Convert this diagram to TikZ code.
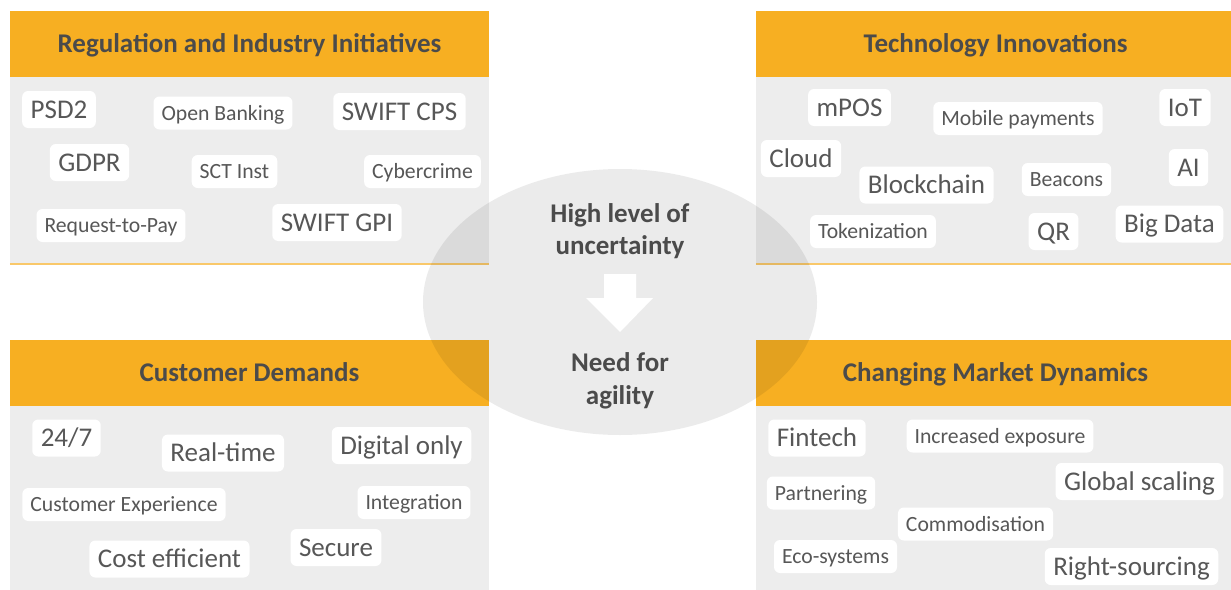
\documentclass[tikz,border=0pt]{standalone}
\usepackage{fontspec}
\setmainfont{Carlito}
\usetikzlibrary{positioning}
\definecolor{panelorange}{HTML}{F7AF22}
\definecolor{panelgray}{HTML}{EDEDED}
\definecolor{lineorange}{HTML}{F9C86A}
\definecolor{tagtext}{HTML}{575757}
\definecolor{headtext}{HTML}{4B4B4B}
\tikzset{
  header/.style={fill=panelorange, minimum width=479pt, minimum height=66pt, inner sep=0pt,
    text=headtext, font=\fontsize{27}{30}\selectfont\bfseries, text height=19pt, text depth=1.6pt},
  panelbody/.style={fill=panelgray, minimum width=479pt, inner sep=0pt, anchor=north},
  bigtag/.style={fill=white, rounded corners=6pt, text=tagtext, font=\fontsize{27}{30}\selectfont,
    inner xsep=8.5pt, inner ysep=0pt, minimum height=37pt, text height=19pt, text depth=1.6pt},
  smalltag/.style={fill=white, rounded corners=6pt, text=tagtext, font=\fontsize{21.7}{25}\selectfont,
    inner xsep=8pt, inner ysep=0pt, minimum height=33pt, text height=15.5pt, text depth=1.5pt},
  centretext/.style={text=headtext, font=\fontsize{27}{32.5}\selectfont\bfseries, align=center}
}

\begin{document}
\begin{tikzpicture}[x=1pt,y=-1pt]

  \clip (0,0) rectangle (1231,589);

  % Draw panels.
  \node[panelbody, minimum height=186pt] (bodyRI) at (249.5,77) {};
  \node[panelbody, minimum height=186pt] (bodyTI) at (995.5,77) {};
  \node[panelbody, minimum height=184pt] (bodyCD) at (249.5,406) {};
  \node[panelbody, minimum height=184pt] (bodyMD) at (995.5,406) {};
  \draw[lineorange, line width=2pt] ([yshift=-1pt]bodyRI.south west) -- ([yshift=-1pt]bodyRI.south east);
  \draw[lineorange, line width=2pt] ([yshift=-1pt]bodyTI.south west) -- ([yshift=-1pt]bodyTI.south east);

  \node[header] (headRI) at (249.5,44) {Regulation and Industry Initiatives};
  \node[header] (headTI) at (995.5,44) {Technology Innovations};
  \node[header] (headCD) at (249.5,373) {Customer Demands};
  \node[header] (headMD) at (995.5,373) {Changing Market Dynamics};

  % Shade the centre.
  \fill[black, opacity=0.08] (620,302) ellipse [x radius=197pt, y radius=133pt];
  \fill[white] (604,274) -- (636,274) -- (636,298) -- (653,298) -- (620,332) -- (586,298) -- (604,298) -- cycle;
  \node[centretext] (uncert) at (620,231) {High level of\\uncertainty};
  \node[centretext] (agility) at (620,381) {Need for\\agility};

  % Regulation and industry initiatives.
  \node[bigtag] (psd) at (59,109.5) {PSD2};
  \node[smalltag] (openb) at (223,113) {Open Banking};
  \node[bigtag] (cps) at (399.5,111.5) {SWIFT CPS};
  \node[bigtag] (gdpr) at (89.5,162.5) {GDPR};
  \node[smalltag] (sct) at (234.5,171.5) {SCT Inst};
  \node[smalltag] (cyber) at (422.5,171.5) {Cybercrime};
  \node[smalltag] (rtp) at (111,225.5) {Request-to-Pay};
  \node[bigtag] (gpi) at (337,222.5) {SWIFT GPI};

  % Technology innovations.
  \node[bigtag] (mpos) at (849.5,107.5) {mPOS};
  \node[smalltag] (mobile) at (1018,118.5) {Mobile payments};
  \node[bigtag] (iot) at (1185,107.5) {IoT};
  \node[bigtag] (cloud) at (801,158.5) {Cloud};
  \node[bigtag] (chain) at (926.5,185) {Blockchain};
  \node[smalltag] (beacon) at (1066.5,179.5) {Beacons};
  \node[bigtag] (ai) at (1188.5,167.5) {AI};
  \node[smalltag] (token) at (873,231.5) {Tokenization};
  \node[bigtag] (qr) at (1053.5,231.5) {QR};
  \node[bigtag] (bigdata) at (1169.5,224) {Big Data};

  % Customer demands.
  \node[bigtag] (always) at (66.5,438) {24/7};
  \node[bigtag] (realt) at (223,453) {Real-time};
  \node[bigtag] (digital) at (401.5,445.5) {Digital only};
  \node[smalltag] (custexp) at (124,504.5) {Customer Experience};
  \node[smalltag] (integr) at (414,502.5) {Integration};
  \node[bigtag] (cost) at (169.5,559) {Cost efficient};
  \node[bigtag] (secure) at (336,547.5) {Secure};

  % Changing market dynamics.
  \node[bigtag] (fintech) at (817,438) {Fintech};
  \node[smalltag] (expos) at (1000,436) {Increased exposure};
  \node[bigtag] (global) at (1139.5,481.5) {Global scaling};
  \node[smalltag] (partner) at (821,493) {Partnering};
  \node[smalltag] (commod) at (975.5,524) {Commodisation};
  \node[smalltag] (eco) at (835.5,556.5) {Eco-systems};
  \node[bigtag] (rights) at (1131.5,566.5) {Right-sourcing};

\end{tikzpicture}
\end{document}
